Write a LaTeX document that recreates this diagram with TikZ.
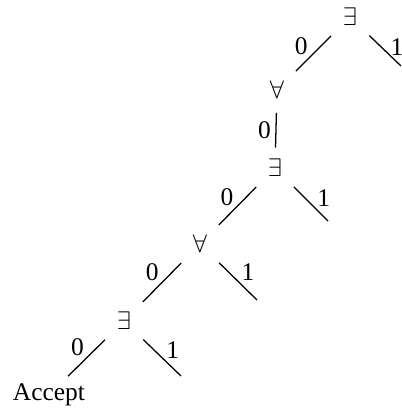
\documentclass[tikz,border=0pt]{standalone}
\usepackage{fontspec}
\setmainfont{Liberation Serif}
\usepackage{tikz}
\usetikzlibrary{positioning}

\begin{document}
\begin{tikzpicture}[x=0.393pt,y=-0.393pt,
    quant/.style={inner sep=0pt},
    branch/.style={line width=0.5pt,shorten <=10.5pt,shorten >=10.5pt},
    freebranch/.style={line width=0.5pt,shorten <=10.5pt},
    lab0/.style={left=1.6pt},
    lab1/.style={right=#1},lab1/.default=1.4pt]
    \useasboundingbox (0,0) rectangle (401,408);
    % --- quantifier nodes ---
    \node[quant] (e1) at (350,17) {$\exists$};
    \node[quant] (a1) at (277,90) {$\forall$};
    \node[quant] (e2) at (275,168) {$\exists$};
    \node[quant] (a2) at (200,244) {$\forall$};
    \node[quant] (e3) at (124,321) {$\exists$};
    \node (acc) at (49,395) {Accept};
    % free ends of the 1-branches
    \coordinate (r1) at (401,66);
    \coordinate (r2) at (328,221);
    \coordinate (r3) at (257,300);
    \coordinate (r4) at (181,376);
    % --- 0-branches ---
    \foreach \u/\v/\p in {e1/a1/0.40,e2/a2/0.38,a2/e3/0.37,e3/acc/0.36}{
      \draw[branch] (\u.center) -- node[pos=\p,lab0] {0} (\v.center);
    }
    \draw[branch,shorten <=9pt,shorten >=8pt] (a1.center) -- node[pos=0.51,left,inner sep=1.8pt] {0} (e2.center);
    % --- 1-branches ---
    \foreach \u/\v/\p/\d in {e1/r1/0.61/0.2pt,e2/r2/0.56/1.4pt,a2/r3/0.51/1.4pt,e3/r4/0.52/1.4pt}{
      \draw[freebranch] (\u.center) -- node[pos=\p,lab1=\d] {1} (\v);
    }
\end{tikzpicture}
\end{document}
